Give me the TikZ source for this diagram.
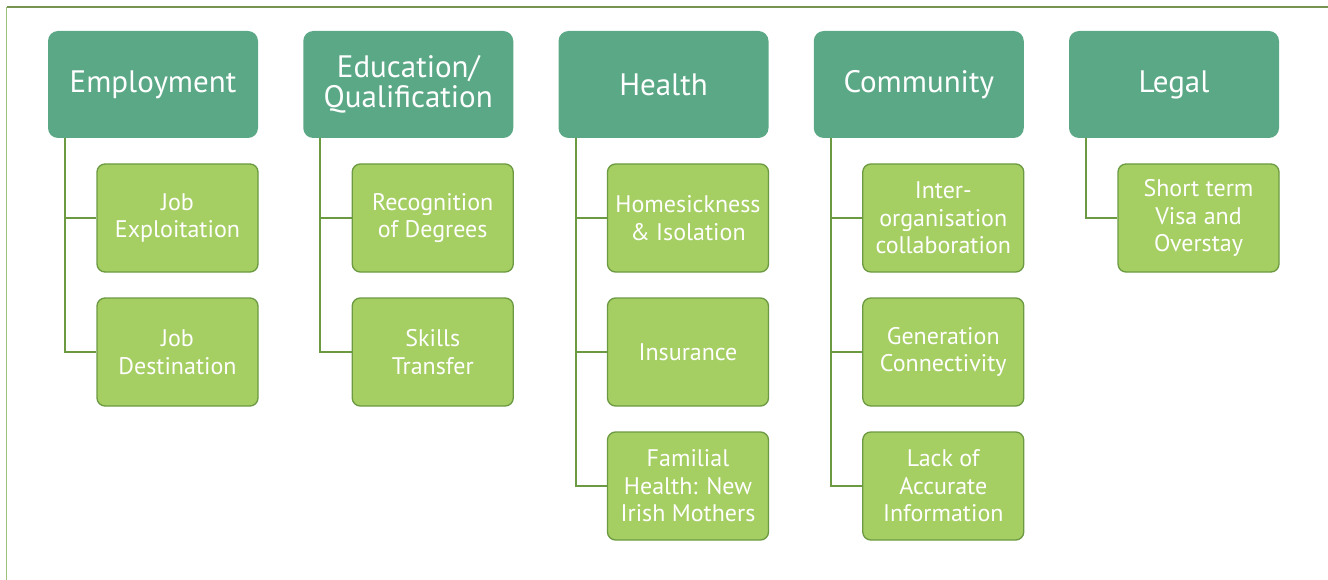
\documentclass[tikz,border=0pt]{standalone}
\usepackage{fontspec}
\setmainfont{PT Sans}
\definecolor{hdrfill}{HTML}{5BA886}
\definecolor{chfill}{HTML}{A5CE63}
\definecolor{chdraw}{HTML}{6C9A42}
\definecolor{conn}{HTML}{6C9A42}
\definecolor{frametop}{HTML}{76934F}
\definecolor{frameleft}{HTML}{9DC27A}
\tikzset{
  hdr/.style={fill=hdrfill, draw=none, rounded corners=10pt, minimum width=210pt, minimum height=107pt,
    text=white, align=center, inner sep=0pt, font=\fontsize{31}{30}\selectfont},
  child/.style={fill=chfill, draw=chdraw, line width=1.3pt, rounded corners=8pt, minimum width=161pt, minimum height=108pt,
    text=white, align=center, inner sep=0pt, font=\fontsize{24}{27.5}\selectfont},
  link/.style={draw=conn, line width=2pt},
}
\begin{document}
\begin{tikzpicture}[x=1pt,y=-1pt]
\useasboundingbox (0,0) rectangle (1328,580);
\draw[frameleft, line width=1.6pt] (6.5,580) -- (6.5,7);
\draw[frametop, line width=1.4pt] (6.5,7) -- (1328,7);

% column lefts: 48, 303.25, 558.5, 813.75, 1069
\node[hdr] (h1) at (153,84.5) {Employment};
\node[hdr] (h2) at (408.25,84.5) {Education/\\Qualification};
\node[hdr] (h3) at (663.5,84.5) {Health};
\node[hdr] (h4) at (918.75,84.5) {Community};
\node[hdr] (h5) at (1174,84.5) {Legal};

\coordinate (t1) at (65,138);
\coordinate (t2) at (320.25,138);
\coordinate (t3) at (575.5,138);
\coordinate (t4) at (830.75,138);
\coordinate (t5) at (1086,138);

\node[child] (c11) at (177.5,218) {Job\\Exploitation};
\node[child] (c12) at (177.5,352) {Job\\Destination};
\node[child] (c21) at (432.75,218) {Recognition\\of Degrees};
\node[child] (c22) at (432.75,352) {Skills\\Transfer};
\node[child] (c31) at (688,218) {Homesickness\\\& Isolation};
\node[child] (c32) at (688,352) {Insurance};
\node[child] (c33) at (688,486) {Familial\\Health: New\\Irish Mothers};
\node[child] (c41) at (943.25,218) {Inter-\\organisation\\collaboration};
\node[child] (c42) at (943.25,352) {Generation\\Connectivity};
\node[child] (c43) at (943.25,486) {Lack of\\Accurate\\Information};
\node[child] (c51) at (1198.5,218) {Short term\\Visa and\\Overstay};

\draw[link] (t1) |- (c11.west);
\draw[link] (t1) |- (c12.west);
\draw[link] (t2) |- (c21.west);
\draw[link] (t2) |- (c22.west);
\draw[link] (t3) |- (c31.west);
\draw[link] (t3) |- (c32.west);
\draw[link] (t3) |- (c33.west);
\draw[link] (t4) |- (c41.west);
\draw[link] (t4) |- (c42.west);
\draw[link] (t4) |- (c43.west);
\draw[link] (t5) |- (c51.west);
\end{tikzpicture}
\end{document}
